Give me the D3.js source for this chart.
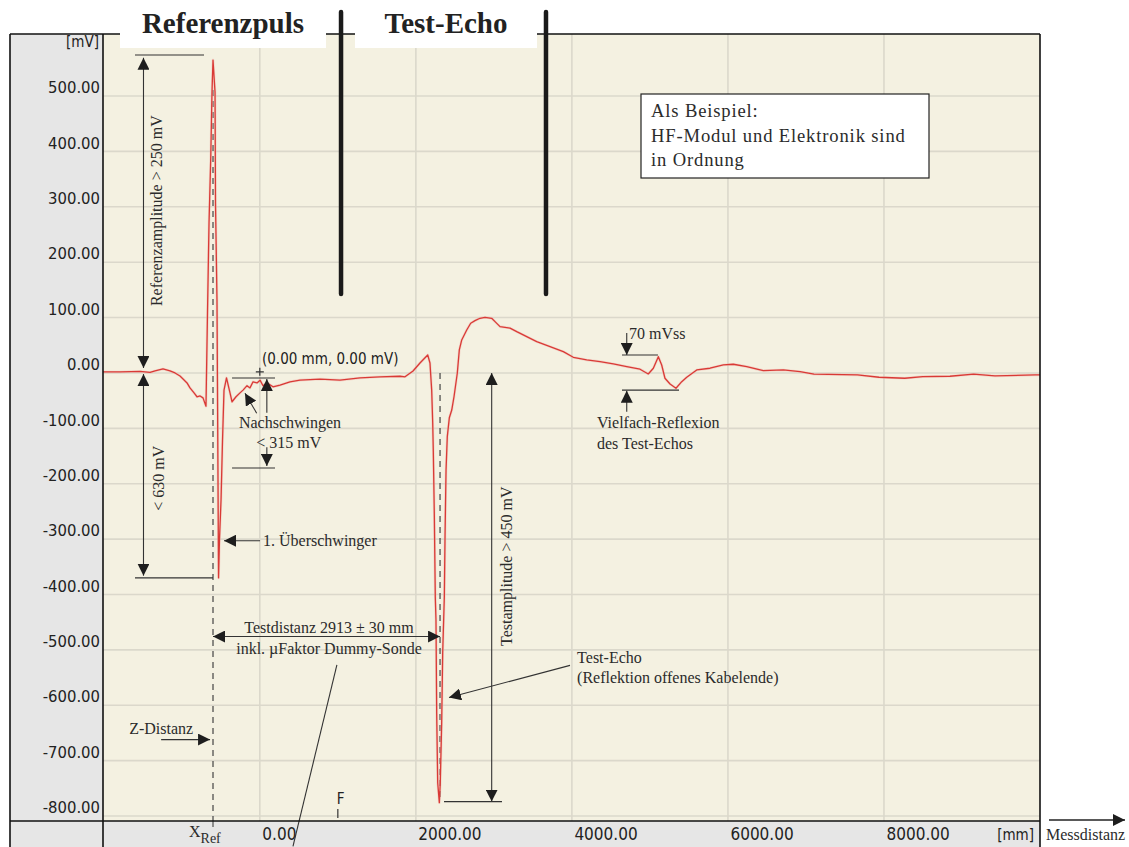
<!DOCTYPE html>
<html>
<head>
<meta charset="utf-8">
<script src="https://cdn.jsdelivr.net/npm/d3@7"></script>
<style>
  body { margin: 0; background: #fff; }
  svg { display: block; }
  .ann { font-family: "Liberation Serif", "Times New Roman", serif; font-size: 16px; fill: #2b2b2b; }
  .sans { font-family: "Liberation Sans Narrow", "Arial Narrow", "DejaVu Sans Condensed", sans-serif; fill: #222; }
</style>
</head>
<body>
<svg id="chart" width="1129" height="847"></svg>
<script>
// Echo curve (distance in mm, amplitude in mV)
const distanceMm = [-2010, -1792, -1650, -1535, -1407, -1343, -1241, -1151, -1087, -1023,
    -984, -933, -895, -843, -805, -766, -728, -690, -670, -651,
    -629, -613, -600, -574, -568, -549, -536, -529, -517, -497,
    -478, -459, -427, -382, -356, -305, -254, -215, -164, -126,
    -87, -36, 3, 41, 92, 169, 259, 387, 515, 772,
    1028, 1284, 1541, 1797, 1861, 1964, 2053, 2152, 2181, 2203,
    2216, 2224, 2237, 2249, 2258, 2267, 2280, 2301, 2313, 2331,
    2344, 2365, 2374, 2387, 2403, 2429, 2460, 2489, 2531, 2557,
    2588, 2652, 2703, 2758, 2822, 2886, 2972, 3015, 3079, 3207,
    3293, 3421, 3549, 3720, 3890, 4018, 4190, 4360, 4531, 4703,
    4873, 4979, 5044, 5108, 5151, 5193, 5258, 5334, 5408, 5472,
    5600, 5770, 5941, 6069, 6241, 6453, 6710, 6924, 7103, 7661,
    7936, 8266, 8498, 8846, 9149, 9423, 9936, 10000];

const amplitudeMv = [1.8, 1.8, 2.5, 2.7, 0.9, 3.6, 7.2, 3.6, 0, -5.4,
    -10.8, -18, -27, -36, -43, -41.5, -45, -60, 114, 271,
    388, 507, 565, 507, 307, 132, -193, -370, -301, -229,
    -121, -31, -9, -36, -52, -43, -36, -31, -23, -27,
    -16, -18, -13, -23, -18, -25, -22, -16, -13, -11,
    -13, -9, -7, -6, -7, 3.6, 18, 32.5, 18, -31,
    -90, -144, -259, -404, -446, -614, -740, -776, -740, -632,
    -505, -404, -295, -175, -115, -81, -67, -43, -0.5, 41.5,
    59.6, 77.6, 89.7, 94.4, 98.7, 100.5, 98.7, 92.6, 83.6, 81,
    74.5, 65.5, 56.5, 47.5, 38.4, 28.3, 23.5, 20.4, 16.2, 11.4,
    6.7, -1.8, 8.5, 29.4, 14.4, -9.6, -19.9, -27.6, -15.7, -7.8,
    5.4, 8.5, 14.4, 15.7, 11.4, 4.2, 5.4, 2.3, -2.3, -3.6,
    -7.8, -9.6, -6.7, -6, -2.3, -5.4, -3.6, -3.6];

const yTickValues = [500, 400, 300, 200, 100, 0, -100, -200, -300, -400, -500, -600, -700, -800];
const xTickValues = [0, 2000, 4000, 6000, 8000];
const xRefMm = -600;
const testEchoMm = 2310;
const fMarkerMm = 1000;

const svg = d3.select("#chart");
const plot = { left: 103, top: 34, right: 1040, bottom: 821 };
const frameLeft = 10, frameBottom = 847;
const sansFont = "'Liberation Sans Narrow','Arial Narrow','DejaVu Sans Condensed',sans-serif";

const x = d3.scaleLinear().domain([-2010, 10000]).range([plot.left, plot.right]);
const y = d3.scaleLinear().domain([-809, 612]).range([plot.bottom, plot.top]);

const defs = svg.append("defs");
defs.append("marker")
    .attr("id", "arrow")
    .attr("viewBox", "0 0 12 12")
    .attr("refX", 12).attr("refY", 6)
    .attr("markerWidth", 12).attr("markerHeight", 12)
    .attr("markerUnits", "userSpaceOnUse")
    .attr("orient", "auto-start-reverse")
    .append("path")
    .attr("d", "M0,0L12,6L0,12Z")
    .attr("fill", "#1e1e1e");
defs.append("clipPath").attr("id", "plotclip")
    .append("rect")
    .attr("x", plot.left).attr("y", plot.top)
    .attr("width", plot.right - plot.left).attr("height", plot.bottom - plot.top);

// panels
svg.append("rect").attr("x", frameLeft).attr("y", plot.top)
    .attr("width", plot.left - frameLeft).attr("height", frameBottom - plot.top).attr("fill", "#e6e6e6");
svg.append("rect").attr("x", frameLeft).attr("y", plot.bottom)
    .attr("width", plot.right - frameLeft).attr("height", frameBottom - plot.bottom).attr("fill", "#e6e6e6");
svg.append("rect").attr("x", plot.left).attr("y", plot.top)
    .attr("width", plot.right - plot.left).attr("height", plot.bottom - plot.top).attr("fill", "#f4f1e1");

// grid
const grid = svg.append("g").attr("stroke", "#dbd8cb").attr("stroke-width", 1.6);
grid.selectAll(".hg").data(yTickValues).enter().append("line")
    .attr("x1", plot.left).attr("x2", plot.right)
    .attr("y1", d => y(d)).attr("y2", d => y(d));
grid.selectAll(".vg").data(xTickValues).enter().append("line")
    .attr("y1", plot.top).attr("y2", plot.bottom)
    .attr("x1", d => x(d)).attr("x2", d => x(d));

// axes labels
const yAxis = svg.append("g")
    .attr("transform", `translate(${plot.left - 3},0)`)
    .call(d3.axisLeft(y).tickValues(yTickValues).tickSize(0).tickPadding(0).tickFormat(d => d.toFixed(2)));
yAxis.select(".domain").remove();
yAxis.selectAll("text").attr("dy", "-0.2em")
    .style("font-size", "16.5px").style("font-family", sansFont).attr("fill", "#222");
svg.append("text").attr("class", "sans").attr("x", plot.left - 4).attr("y", 47)
    .attr("text-anchor", "end").style("font-size", "15px").text("[mV]");

const xAxis = svg.append("g")
    .attr("transform", `translate(0,${plot.bottom})`)
    .call(d3.axisBottom(x).tickValues(xTickValues).tickSize(0).tickFormat(d => d.toFixed(2)));
xAxis.select(".domain").remove();
xAxis.selectAll("text")
    .attr("text-anchor", "start").attr("x", 2).attr("y", 13).attr("dy", "0.35em")
    .style("font-size", "17px").style("font-family", sansFont).attr("fill", "#222");
svg.append("text").attr("class", "sans").attr("x", plot.right - 6).attr("y", plot.bottom + 19)
    .attr("text-anchor", "end").style("font-size", "15px").text("[mm]");

// X_Ref tick and label
svg.append("line").attr("x1", x(xRefMm)).attr("x2", x(xRefMm))
    .attr("y1", plot.bottom).attr("y2", plot.bottom + 6).attr("stroke", "#333");
const xref = svg.append("text").attr("class", "ann").attr("x", x(xRefMm) - 24).attr("y", plot.bottom + 16);
xref.append("tspan").text("X");
xref.append("tspan").attr("dy", 6).style("font-size", "14px").text("Ref");

// F marker
svg.append("text").attr("class", "sans").attr("x", x(fMarkerMm)).attr("y", plot.bottom - 17)
    .attr("text-anchor", "start").attr("dx", -1).style("font-size", "15px").text("F");
svg.append("line").attr("x1", x(fMarkerMm)).attr("x2", x(fMarkerMm))
    .attr("y1", plot.bottom - 12).attr("y2", plot.bottom - 3).attr("stroke", "#333").attr("stroke-width", 1.2);

// dashed reference lines
const dashes = [
    { mm: xRefMm, from: 511, to: -809 },
    { mm: testEchoMm, from: 0, to: -770 }
];
svg.append("g").selectAll("line").data(dashes).enter().append("line")
    .attr("x1", d => x(d.mm)).attr("x2", d => x(d.mm))
    .attr("y1", d => y(d.from)).attr("y2", d => y(d.to))
    .attr("stroke", "#444").attr("stroke-width", 1.2).attr("stroke-dasharray", "6,5");

// echo curve
const points = distanceMm.map((d, i) => [d, amplitudeMv[i]]);
const line = d3.line().x(d => x(d[0])).y(d => y(d[1]));
const curve = svg.append("g").attr("clip-path", "url(#plotclip)");
curve.append("path").datum(points).attr("d", line)
    .attr("fill", "none").attr("stroke", "#f2b9b0").attr("stroke-width", 2.6).attr("stroke-opacity", 0.5)
    .attr("stroke-linejoin", "round");
curve.append("path").datum(points).attr("d", line)
    .attr("fill", "none").attr("stroke", "#d93a36").attr("stroke-width", 1.3)
    .attr("stroke-linejoin", "round");

// annotation lines (data units); head: "end", "both" or none
const annLines = [
    { x1: -1600, y1: 574, x2: -715, y2: 574 },
    { x1: -1491, y1: 569, x2: -1491, y2: 9, head: "both" },
    { x1: -1491, y1: -2, x2: -1491, y2: -366, head: "both" },
    { x1: -1600, y1: -370, x2: -600, y2: -370 },
    { x1: -356, y1: -9, x2: 195, y2: -9 },
    { x1: 90, y1: -72, x2: 90, y2: -11, head: "end" },
    { x1: -356, y1: -171.5, x2: 195, y2: -171.5 },
    { x1: 90, y1: -134, x2: 90, y2: -168, head: "end" },
    { x1: -40, y1: -72.7, x2: -190, y2: -36.6, head: "end" },
    { x1: 3, y1: -303, x2: -459, y2: -303, head: "end" },
    { x1: -600, y1: -476, x2: 2310, y2: -476, head: "both" },
    { x1: 988, y1: -527, x2: 425, y2: -855 },
    { x1: -1265, y1: -662, x2: -638, y2: -662, head: "end" },
    { x1: 3976, y1: -528, x2: 2425, y2: -586, head: "end" },
    { x1: 2972, y1: 0, x2: 2972, y2: -774, head: "both" },
    { x1: 2361, y1: -774, x2: 3104, y2: -774 },
    { x1: 4703, y1: 72, x2: 4703, y2: 32.5, head: "end" },
    { x1: 4642, y1: 32.5, x2: 5103, y2: 32.5 },
    { x1: 4642, y1: -31, x2: 5373, y2: -31 },
    { x1: 4703, y1: -70, x2: 4703, y2: -32, head: "end" }
];
svg.append("g").selectAll("line").data(annLines).enter().append("line")
    .attr("x1", d => x(d.x1)).attr("y1", d => y(d.y1))
    .attr("x2", d => x(d.x2)).attr("y2", d => y(d.y2))
    .attr("stroke", "#333").attr("stroke-width", 1.1)
    .attr("marker-end", d => d.head ? "url(#arrow)" : null)
    .attr("marker-start", d => d.head === "both" ? "url(#arrow)" : null);

// origin cross
svg.append("path")
    .attr("d", `M${x(0) - 4},${y(2)}h8M${x(0)},${y(2) - 4}v8`)
    .attr("stroke", "#333").attr("stroke-width", 1.2);

// annotation texts
const annTexts = [
    { mm: -1321, mv: 293, t: "Referenzamplitude > 250 mV", rot: true },
    { mm: -1305, mv: -190, t: "< 630 mV", rot: true },
    { mm: 387, mv: -90, t: "Nachschwingen", a: "middle" },
    { mm: 372, mv: -126, t: "< 315 mV", a: "middle" },
    { mm: 41, mv: -303, t: "1. Überschwinger" },
    { mm: 887, mv: -460, t: "Testdistanz 2913 ± 30 mm", a: "middle" },
    { mm: 887, mv: -498, t: "inkl. µFaktor Dummy-Sonde", a: "middle" },
    { mm: -1265, mv: -642, t: "Z-Distanz", a: "middle" },
    { mm: 4067, mv: -513, t: "Test-Echo" },
    { mm: 4067, mv: -549, t: "(Reflektion offenes Kabelende)" },
    { mm: 3156, mv: -349, t: "Testamplitude > 450 mV", rot: true },
    { mm: 4732, mv: 71, t: "70 mVss" },
    { mm: 4322, mv: -90, t: "Vielfach-Reflexion" },
    { mm: 4322, mv: -128, t: "des Test-Echos" }
];
svg.append("g").selectAll("text").data(annTexts).enter().append("text")
    .attr("class", "ann")
    .attr("text-anchor", d => d.rot ? "middle" : (d.a || "start"))
    .attr("dominant-baseline", "central")
    .attr("transform", d => `translate(${x(d.mm)},${y(d.mv)})` + (d.rot ? " rotate(-90)" : ""))
    .text(d => d.t);

svg.append("text").attr("class", "sans")
    .attr("x", x(28)).attr("y", y(25)).attr("dominant-baseline", "central")
    .style("font-size", "15px").text("(0.00 mm, 0.00 mV)");

// info box
const info = svg.append("g").attr("transform", "translate(641,94)");
info.append("rect").attr("width", 288).attr("height", 84)
    .attr("fill", "#fff").attr("stroke", "#222").attr("stroke-width", 1.2);
["Als Beispiel:", "HF-Modul und Elektronik sind", "in Ordnung"].forEach((t, i) => {
    info.append("text").attr("class", "ann")
        .attr("x", 10).attr("y", 23 + i * 24.7)
        .style("font-size", "18.6px").style("letter-spacing", "0.85px")
        .text(t);
});

// frame
const frame = svg.append("g").attr("stroke", "#111").attr("stroke-width", 1.6);
frame.append("line").attr("x1", frameLeft).attr("x2", plot.right).attr("y1", plot.top).attr("y2", plot.top);
frame.append("line").attr("x1", frameLeft).attr("x2", plot.right).attr("y1", plot.bottom).attr("y2", plot.bottom);
frame.append("line").attr("x1", frameLeft).attr("x2", frameLeft).attr("y1", plot.top).attr("y2", frameBottom);
frame.append("line").attr("x1", plot.left).attr("x2", plot.left).attr("y1", plot.top).attr("y2", frameBottom);
frame.append("line").attr("x1", plot.right).attr("x2", plot.right).attr("y1", plot.top).attr("y2", frameBottom);

// section headings with white plates and black bars
const headings = [
    { t: "Referenzpuls", x0: 120, x1: 326 },
    { t: "Test-Echo", x0: 355, x1: 537 }
];
headings.forEach(h => {
    svg.append("rect").attr("x", h.x0).attr("y", 14).attr("width", h.x1 - h.x0).attr("height", 34).attr("fill", "#fff");
    svg.append("text").attr("x", (h.x0 + h.x1) / 2).attr("y", 33)
        .attr("text-anchor", "middle")
        .style("font-family", "'Liberation Serif','Times New Roman',serif")
        .style("font-weight", "bold").style("font-size", "29px").attr("fill", "#222")
        .text(h.t);
});
const barsMm = [1041, 3668];
svg.append("g").selectAll("line").data(barsMm).enter().append("line")
    .attr("x1", d => x(d)).attr("x2", d => x(d))
    .attr("y1", 12).attr("y2", 294)
    .attr("stroke", "#1a1a1a").attr("stroke-width", 4.5).attr("stroke-linecap", "round");

// Messdistanz arrow outside the frame
svg.append("line").attr("x1", 1049).attr("x2", 1125).attr("y1", 820).attr("y2", 820)
    .attr("stroke", "#222").attr("stroke-width", 1.3).attr("marker-end", "url(#arrow)");
svg.append("text").attr("class", "ann").attr("x", 1046).attr("y", 834)
    .attr("dominant-baseline", "central").text("Messdistanz");
</script>
</body>
</html>
